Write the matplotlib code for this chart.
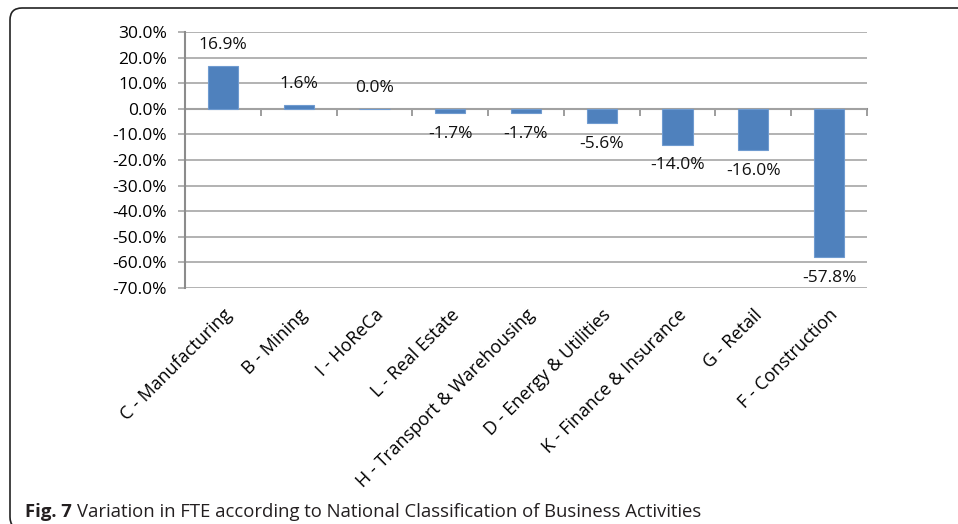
import numpy as np
import matplotlib
matplotlib.use("Agg")
import matplotlib.pyplot as plt
from matplotlib.patches import FancyBboxPatch
from matplotlib.ticker import FuncFormatter

# data (variation in FTE, %)
categories = ["C - Manufacturing", "B - Mining", "I - HoReCa", "L - Real Estate",
              "H - Transport & Warehousing", "D - Energy & Utilities",
              "K - Finance & Insurance", "G - Retail", "F - Construction"]
variation = [16.9, 1.6, 0.0, -1.7, -1.7, -5.6, -14.0, -16.0, -57.8]
y_ticks = [30, 20, 10, 0, -10, -20, -30, -40, -50, -60, -70]
caption_bold = "Fig. 7"
caption_rest = "Variation in FTE according to National Classification of Business Activities"

plt.rcParams['font.family'] = ['Open Sans', 'DejaVu Sans']

grid_col = '#a6a6a6'
axis_col = '#8c8c8c'
bar_col = '#4F81BD'

fig = plt.figure(figsize=(9.58, 5.24), dpi=100)
ax = fig.add_axes([185/958, 1 - 288/524, (867 - 185)/958, (288 - 32)/524])

x = np.arange(len(categories))
ax.bar(x, variation, width=0.4, color=bar_col, edgecolor='#6f9bd0', linewidth=0.8, zorder=3)
ax.set_xlim(-0.5, len(categories) - 0.5)
ax.set_ylim(min(y_ticks), max(y_ticks))
ax.set_yticks(y_ticks)
ax.yaxis.set_major_formatter(FuncFormatter(lambda v, p: f"{v:.1f}%"))
ax.grid(axis='y', color=grid_col, linewidth=1.2, zorder=0)
ax.tick_params(axis='y', length=5, width=1.2, color=grid_col, pad=8, labelsize=12.5)

for s in ['top', 'right', 'bottom']:
    ax.spines[s].set_visible(False)
ax.spines['left'].set_color(axis_col)
ax.spines['left'].set_linewidth(1.5)

# category labels at bottom, rotated
ax.set_xticks(x, categories, rotation=45, ha='right', rotation_mode='anchor')
ax.tick_params(axis='x', length=0, pad=13, labelsize=13)

# zero line with tick marks between categories
zero_ax = ax.secondary_xaxis(0, transform=ax.transData)
zero_ax.set_xticks(np.arange(len(categories) + 1) - 0.5)
zero_ax.tick_params(length=5, width=1.2, color=axis_col, labelbottom=False, labeltop=False)
zero_ax.spines['bottom'].set_color(axis_col)
zero_ax.spines['bottom'].set_linewidth(1.5)
zero_ax.spines['bottom'].set_zorder(4)

# value labels
for xi, v in zip(x, variation):
    off = 15 if v >= 0 else -15
    ax.annotate(f"{v:.1f}%", (xi, v), xytext=(0, off), textcoords='offset points',
                ha='center', va='center', fontsize=12.5, color='#111111')

# caption
t1 = fig.text(25/958, 1 - 517/524, caption_bold, fontweight='bold', fontsize=13.3,
              color='#231f20', va='baseline')
ax.annotate(caption_rest, xy=(1, 0), xycoords=t1, xytext=(4, 0), textcoords='offset points',
            ha='left', va='bottom', fontsize=13.3, color='#231f20',
            annotation_clip=False)

# rounded frame around the figure
frame = FancyBboxPatch((0.10, -0.05), 10.0, 5.16 + 0.05,
                       boxstyle="round,pad=0,rounding_size=0.12",
                       transform=fig.dpi_scale_trans, fill=False,
                       edgecolor='#222222', linewidth=1.2)
fig.patches.append(frame)

fig.savefig("out.png", dpi=100)
